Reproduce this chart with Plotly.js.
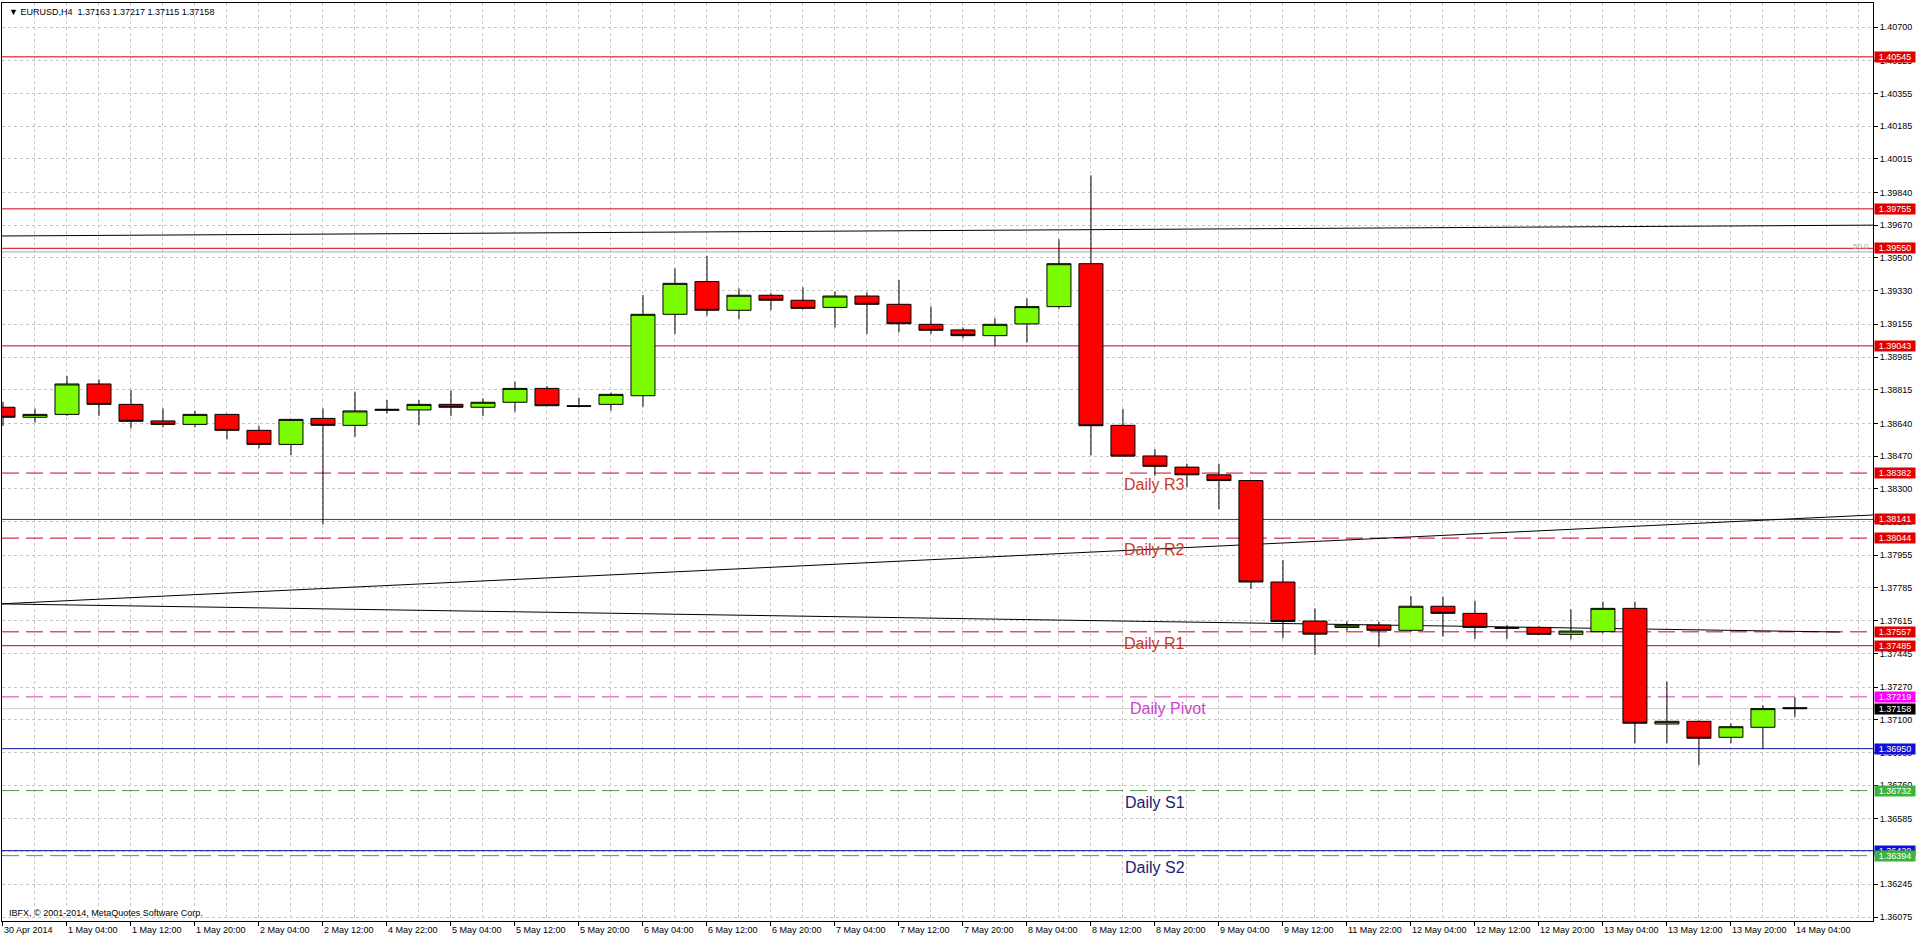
<!DOCTYPE html>
<html>
<head>
<meta charset="utf-8">
<script src="https://cdn.plot.ly/plotly-3.0.1.min.js"></script>
<style>
html,body{margin:0;padding:0;background:#ffffff;}
#chart{width:1916px;height:939px;}
</style>
</head>
<body>
<div id="chart"></div>
<script>
// ---------------- DATA ----------------
const symbolName = 'EURUSD,H4';
const barTimes = [
  '30 Apr 20:00','1 May 00:00','1 May 04:00','1 May 08:00','1 May 12:00','1 May 16:00','1 May 20:00',
  '2 May 00:00','2 May 04:00','2 May 08:00','2 May 12:00','2 May 16:00','4 May 22:00','5 May 00:00',
  '5 May 04:00','5 May 08:00','5 May 12:00','5 May 16:00','5 May 20:00','6 May 00:00','6 May 04:00',
  '6 May 08:00','6 May 12:00','6 May 16:00','6 May 20:00','7 May 00:00','7 May 04:00','7 May 08:00',
  '7 May 12:00','7 May 16:00','7 May 20:00','8 May 00:00','8 May 04:00','8 May 08:00','8 May 12:00',
  '8 May 16:00','8 May 20:00','9 May 00:00','9 May 04:00','9 May 08:00','9 May 12:00','9 May 16:00',
  '11 May 22:00','12 May 00:00','12 May 04:00','12 May 08:00','12 May 12:00','12 May 16:00','12 May 20:00',
  '13 May 00:00','13 May 04:00','13 May 08:00','13 May 12:00','13 May 16:00','13 May 20:00','14 May 00:00',
  '14 May 04:00'
];
const openP = [
  1.38724,1.38672,1.38687,1.38845,1.38739,1.38653,1.38635,1.38687,1.38604,1.38531,
  1.38666,1.38630,1.38708,1.38710,1.38739,1.38724,1.38750,1.38822,1.38732,1.38739,
  1.38784,1.39207,1.39377,1.39228,1.39306,1.39280,1.39243,1.39302,1.39259,1.39155,
  1.39126,1.39096,1.39157,1.39247,1.39470,1.38630,1.38471,1.38413,1.38373,1.38343,
  1.37816,1.37613,1.37580,1.37592,1.37565,1.37690,1.37653,1.37580,1.37580,1.37544,
  1.37558,1.37679,1.37078,1.37092,1.37009,1.37061,1.37163
];
const highP = [
  1.38753,1.38718,1.38886,1.38869,1.38814,1.38718,1.38706,1.38690,1.38627,1.38663,
  1.38718,1.38805,1.38762,1.38762,1.38812,1.38770,1.38857,1.38834,1.38774,1.38800,
  1.39307,1.39446,1.39510,1.39342,1.39316,1.39347,1.39325,1.39320,1.39385,1.39247,
  1.39138,1.39187,1.39289,1.39597,1.39929,1.38716,1.38505,1.38431,1.38431,1.38345,
  1.37930,1.37679,1.37610,1.37610,1.37743,1.37740,1.37719,1.37593,1.37588,1.37674,
  1.37714,1.37714,1.37298,1.37097,1.37081,1.37175,1.37217
];
const lowP = [
  1.38627,1.38644,1.38679,1.38679,1.38614,1.38620,1.38620,1.38557,1.38511,1.38476,
  1.38115,1.38571,1.38692,1.38632,1.38678,1.38678,1.38701,1.38732,1.38724,1.38706,
  1.38727,1.39105,1.39200,1.39181,1.39229,1.39233,1.39139,1.39105,1.39113,1.39105,
  1.39082,1.39043,1.39060,1.39236,1.38475,1.38468,1.38369,1.38308,1.38194,1.37780,
  1.37523,1.37437,1.37563,1.37480,1.37558,1.37532,1.37520,1.37520,1.37544,1.37518,
  1.37549,1.36978,1.36978,1.36865,1.36978,1.36952,1.37115
];
const closeP = [
  1.38672,1.38687,1.38845,1.38739,1.38651,1.38635,1.38687,1.38604,1.38531,1.38661,
  1.38630,1.38705,1.38713,1.38739,1.38724,1.38750,1.38822,1.38732,1.38729,1.38791,
  1.39207,1.39368,1.39228,1.39306,1.39280,1.39238,1.39302,1.39259,1.39158,1.39124,
  1.39096,1.39155,1.39247,1.39470,1.38628,1.38470,1.38417,1.38373,1.38343,1.37816,
  1.37611,1.37545,1.37592,1.37565,1.37690,1.37653,1.37580,1.37576,1.37544,1.37561,
  1.37679,1.37082,1.37092,1.37004,1.37064,1.37158,1.37158
];
// one label every second bar
const xTickText = [
  '30 Apr 2014','1 May 04:00','1 May 12:00','1 May 20:00','2 May 04:00','2 May 12:00','4 May 22:00',
  '5 May 04:00','5 May 12:00','5 May 20:00','6 May 04:00','6 May 12:00','6 May 20:00','7 May 04:00',
  '7 May 12:00','7 May 20:00','8 May 04:00','8 May 12:00','8 May 20:00','9 May 04:00','9 May 12:00',
  '11 May 22:00','12 May 04:00','12 May 12:00','12 May 20:00','13 May 04:00','13 May 12:00',
  '13 May 20:00','14 May 04:00'
];
const yTickVals = [
  1.40700,1.40525,1.40355,1.40185,1.40015,1.39840,1.39670,1.39500,1.39330,1.39155,
  1.38985,1.38815,1.38640,1.38470,1.38300,1.38130,1.37955,1.37785,1.37615,1.37445,
  1.37270,1.37100,1.36930,1.36760,1.36585,1.36415,1.36245,1.36075
];
// horizontal levels
const redLevels = [1.40545, 1.39755, 1.39550, 1.39043, 1.38141, 1.37485];
const dailyResistance = [1.38382, 1.38044, 1.37557];
const dailyResistanceNames = ['Daily R3', 'Daily R2', 'Daily R1'];
const dailyPivot = [1.37219];
const dailyPivotNames = ['Daily Pivot'];
const blueLevels = [1.36950, 1.36420];
const dailySupport = [1.36732, 1.36394];
const dailySupportNames = ['Daily S1', 'Daily S2'];
const fibLevels = [1.39531];
const fibLevelNames = ['50.0'];
// trend lines: anchor bar index and price
const trendUpperIdx = [0, 56];
const trendUpperPrice = [1.39614, 1.39668];
const trendRisingIdx = [0, 56];
const trendRisingPrice = [1.37703, 1.38145];
const trendFallingIdx = [0, 57.4];
const trendFallingPrice = [1.37702, 1.37556];
const copyrightText = 'IBFX, \u00a9 2001-2014, MetaQuotes Software Corp.';

// ---------------- LAYOUT / STYLE ----------------
const FONT = 'Liberation Sans, Arial, sans-serif';
const X_MIN = -0.031, X_MAX = 58.44;
const Y_MIN = 1.360544, Y_MAX = 1.408247;
const GRID = '#c4c4c4';
const barIdx = barTimes.map((_, i) => i);
const n = closeP.length;

const candle = {
  type: 'candlestick',
  x: barIdx,
  open: openP, high: highP, low: lowP, close: closeP,
  increasing: {fillcolor: '#7CFC00', line: {color: '#000000', width: 1}},
  decreasing: {fillcolor: '#FF0000', line: {color: '#000000', width: 1}},
  whiskerwidth: 0,
  hoverinfo: 'skip',
  showlegend: false
};

const shapes = [];
const annotations = [];
function hline(y, color, dash) {
  shapes.push({type: 'line', xref: 'x', yref: 'y', x0: X_MIN, x1: X_MAX, y0: y, y1: y,
    line: {color: color, width: 1, dash: dash}, layer: 'between'});
}
function priceTag(y, bg) {
  annotations.push({xref: 'paper', x: 1, xanchor: 'left', xshift: 1, yref: 'y', y: y, yanchor: 'middle',
    text: y.toFixed(5), showarrow: false, bgcolor: bg, borderpad: 0, width: 40, height: 10,
    font: {family: FONT, size: 9, color: '#ffffff'}});
}
function levelText(y, txt, color, xpos) {
  annotations.push({xref: 'x', x: xpos, xanchor: 'center', yref: 'y', y: y, yanchor: 'top', yshift: -1,
    text: txt, showarrow: false, font: {family: FONT, size: 16, color: color}});
}
function trend(idx, price, extendRight) {
  const slope = (price[1] - price[0]) / (idx[1] - idx[0]);
  const xe = extendRight ? X_MAX : idx[1];
  shapes.push({type: 'line', xref: 'x', yref: 'y',
    x0: X_MIN, y0: price[0] + slope * (X_MIN - idx[0]),
    x1: xe, y1: price[0] + slope * (xe - idx[0]),
    line: {color: '#000000', width: 1}, layer: 'between'});
}

// bid line
hline(closeP[n - 1], '#cfcfcf', 'solid');
fibLevels.forEach(v => hline(v, '#a8a8a8', 'solid'));
redLevels.forEach(v => hline(v, '#cc0022', 'solid'));
dailyResistance.forEach(v => hline(v, '#cc0022', '17px,7px'));
dailyPivot.forEach(v => hline(v, '#d23ca0', '17px,7px'));
blueLevels.forEach(v => hline(v, '#1414a0', 'solid'));
dailySupport.forEach(v => hline(v, '#4f9a4f', '17px,7px'));
trend(trendUpperIdx, trendUpperPrice, true);
trend(trendRisingIdx, trendRisingPrice, true);
trend(trendFallingIdx, trendFallingPrice, false);

// right-hand price tags
redLevels.forEach(v => priceTag(v, '#e00000'));
dailyResistance.forEach(v => priceTag(v, '#e00000'));
dailyPivot.forEach(v => priceTag(v, '#ff00ff'));
priceTag(closeP[n - 1], '#000000');
blueLevels.forEach(v => priceTag(v, '#1010d8'));
dailySupport.forEach(v => priceTag(v, '#3cb43c'));

// level texts
dailyResistance.forEach((v, i) => levelText(v, dailyResistanceNames[i], '#cc3a2a', 36));
dailyPivot.forEach((v, i) => levelText(v, dailyPivotNames[i], '#cc44cc', 36.4));
dailySupport.forEach((v, i) => levelText(v, dailySupportNames[i], '#1c1c70', 36));
fibLevels.forEach((v, i) => annotations.push({xref: 'paper', x: 1, xanchor: 'right', xshift: -2,
  yref: 'y', y: v, yanchor: 'bottom', yshift: -1, text: fibLevelNames[i], showarrow: false,
  font: {family: FONT, size: 8, color: '#b4ac84'}}));

// header text
annotations.push({xref: 'paper', x: 0, xanchor: 'left', xshift: 5, yref: 'paper', y: 1, yanchor: 'top', yshift: -2,
  text: '\u25BC ' + symbolName + '  ' + [openP[n - 1], highP[n - 1], lowP[n - 1], closeP[n - 1]].map(v => v.toFixed(5)).join(' '),
  showarrow: false, font: {family: FONT, size: 9, color: '#000000'}});
annotations.push({xref: 'paper', x: 0, xanchor: 'left', xshift: 5, yref: 'paper', y: 0, yanchor: 'bottom', yshift: 1,
  text: copyrightText, showarrow: false, font: {family: FONT, size: 9, color: '#000000'}});

const layout = {
  width: 1916, height: 939,
  margin: {l: 2, r: 43, t: 3, b: 18, pad: 0},
  paper_bgcolor: '#ffffff', plot_bgcolor: '#ffffff',
  showlegend: false,
  boxgap: 0.25, boxgroupgap: 0,
  font: {family: FONT, size: 9, color: '#000000'},
  xaxis: {
    type: 'linear', range: [X_MIN, X_MAX], fixedrange: true,
    rangeslider: {visible: false},
    tickmode: 'array', tickvals: xTickText.map((_, k) => k * 2), ticktext: xTickText,
    ticks: 'outside', ticklen: 4, tickcolor: '#000000',
    ticklabelposition: 'outside right',
    tickfont: {family: FONT, size: 9, color: '#000000'},
    showgrid: true, gridcolor: GRID, griddash: 'dot', gridwidth: 1,
    minor: {tickmode: 'linear', tick0: 0, dtick: 1, showgrid: true, gridcolor: GRID, griddash: 'dot', gridwidth: 1, ticks: ''},
    showline: true, mirror: true, linecolor: '#000000', linewidth: 1,
    zeroline: false
  },
  yaxis: {
    side: 'right', range: [Y_MIN, Y_MAX], fixedrange: true,
    tickmode: 'array', tickvals: yTickVals, ticktext: yTickVals.map(v => v.toFixed(5)),
    ticks: 'outside', ticklen: 4, tickcolor: '#000000',
    tickfont: {family: FONT, size: 9, color: '#000000'},
    showgrid: true, gridcolor: GRID, griddash: 'dot', gridwidth: 1,
    showline: true, mirror: true, linecolor: '#000000', linewidth: 1,
    zeroline: false
  },
  shapes: shapes,
  annotations: annotations
};

Plotly.newPlot('chart', [candle], layout, {staticPlot: true, displayModeBar: false});
</script>
</body>
</html>
